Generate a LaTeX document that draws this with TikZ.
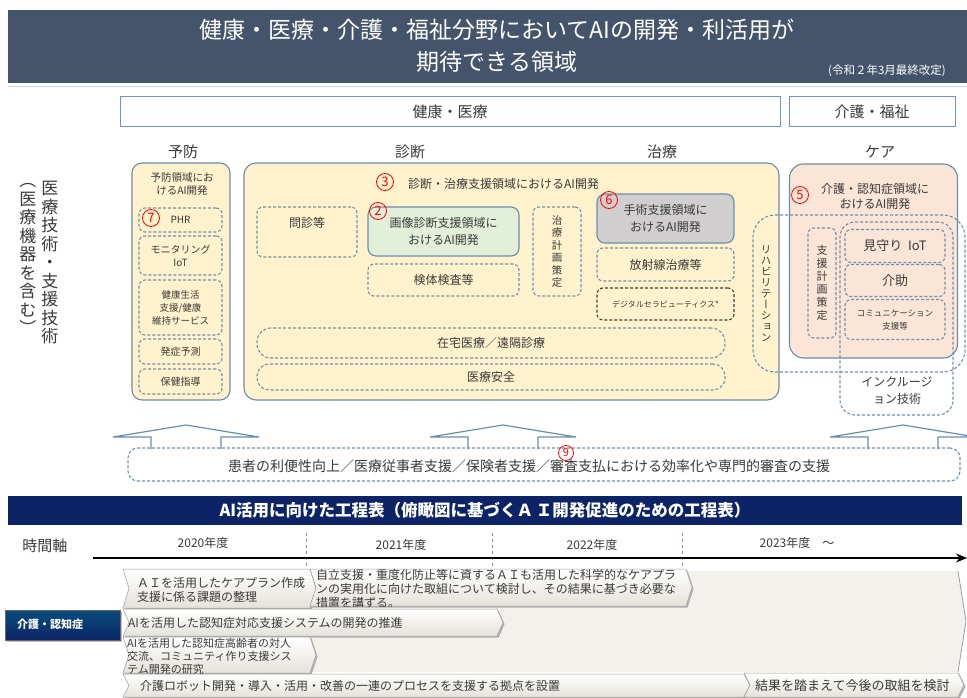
\documentclass[tikz,border=0pt]{standalone}
\usepackage{fontspec}
\setmainfont{Noto Sans CJK JP}
\newfontfamily\jpv[RawFeature=+vert]{Noto Sans CJK JP}
\usetikzlibrary{arrows.meta,shadows}
\definecolor{titlebg}{HTML}{44546A}
\definecolor{navy}{HTML}{0C2466}
\definecolor{hdrblue}{HTML}{6F93D2}
\definecolor{edge}{HTML}{6A8CB0}
\definecolor{dashc}{HTML}{6F90B3}
\definecolor{yel}{HTML}{FFF2CC}
\definecolor{peach}{HTML}{FBE5D6}
\definecolor{grn}{HTML}{E2F0D9}
\definecolor{gry}{HTML}{D0CECE}
\definecolor{txt}{HTML}{3A3A3A}
\definecolor{chevedge}{HTML}{9C9C9C}
\definecolor{chevbot}{HTML}{E4E2DA}
\definecolor{bgfill}{HTML}{F3F1EB}
\definecolor{lightline}{HTML}{BDD7EE}
\newcommand\fs[2]{\fontsize{#1}{#2}\selectfont}
\newcommand\chev[4]{%
 \fill[black!30, shift={(1.6,1.6)}] (#1,#2) -- (#3,#2) -- ({#3+6},{(#2+#4)/2}) -- (#3,#4) -- (#1,#4) -- ({#1+6},{(#2+#4)/2}) -- cycle;
 \shadedraw[top color=white, bottom color=chevbot, draw=chevedge, line width=0.5pt] (#1,#2) -- (#3,#2) -- ({#3+6},{(#2+#4)/2}) -- (#3,#4) -- (#1,#4) -- ({#1+6},{(#2+#4)/2}) -- cycle;}
\newcommand\uparr[1]{\draw[edge, line width=1.2pt, fill=white, line join=miter] ({#1-35},449) -- ({#1-35},437) -- ({#1-73},437) -- (#1,425) -- ({#1+73},437) -- ({#1+35},437) -- ({#1+35},449);}
\tikzset{
 solidbox/.style={draw=edge, line width=1.1pt, rounded corners=8pt, inner sep=0pt, text=txt, align=center},
 dbox/.style={draw=dashc, line width=1.1pt, dash pattern=on 3pt off 2pt, rounded corners=6pt, inner sep=0pt, align=center, text=txt},
 num/.style={circle, draw=red, text=red, line width=0.8pt, inner sep=0pt, minimum size=17pt, font=\fs{13}{13}},
 lbl/.style={text=txt, align=center, inner sep=0pt},
 hdr/.style={draw=hdrblue, line width=1pt, fill=white, inner sep=0pt, text=txt, font=\fs{15}{15}},
 chevtxt/.style={text=txt, align=left, inner sep=0pt, anchor=west},
}
\begin{document}
\begin{tikzpicture}[x=1pt,y=-1pt]
\useasboundingbox (0,0) rectangle (967,698);
\fill[white] (0,0) rectangle (967,698);
% title
\node[fill=titlebg, minimum width=959pt, minimum height=73pt, inner sep=0pt] (banner) at (487.5,46.5) {};
\node[font=\fs{23}{32}, text=white, align=center] (title) at (497,46) {健康・医療・介護・福祉分野においてAIの開発・利活用が\\期待できる領域};
\node[font=\fs{11.5}{11.5}, text=white] (date) at (887,71) {(令和２年3月最終改定)};
\draw[lightline, line width=1pt] (8,86.5) -- (967,86.5);
% headers
\node[hdr, minimum width=660pt, minimum height=30pt] (kenko) at (450,112) {健康・医療};
\node[hdr, minimum width=166pt, minimum height=30pt] (kaigofuku) at (872,112) {介護・福祉};
\node[lbl, font=\fs{15}{15}] (c1) at (183,152) {予防};
\node[lbl, font=\fs{15}{15}] (c2) at (410,152) {診断};
\node[lbl, font=\fs{15}{15}] (c3) at (662,152) {治療};
\node[lbl, font=\fs{15}{15}] (c4) at (880,152) {ケア};
% left vertical
\node[lbl, font=\jpv\fs{17}{18.5}] (v1) at (50,263) {医\\療\\技\\術\\・\\支\\援\\技\\術};
\node[lbl, font=\jpv\fs{17}{18.5}] (v2) at (28,259) {（\\医\\療\\機\\器\\を\\含\\む\\）};
% yobo
\node[solidbox, fill=yel, minimum width=98pt, minimum height=237pt, rounded corners=10pt] (yobo) at (181,281.5) {};
\node[lbl, font=\fs{10.5}{13.5}] (yobot) at (182,184) {予防領域にお\\けるAI開発};
\node[dbox, minimum width=83pt, minimum height=24pt, font=\fs{10}{12}] (phr) at (180.5,220) {PHR};
\node[dbox, minimum width=83pt, minimum height=39pt, font=\fs{10}{13}] (mon) at (180.5,255.5) {モニタリング\\IoT};
\node[dbox, minimum width=83pt, minimum height=55pt, font=\fs{9.5}{13}] (kenkos) at (180.5,307.5) {健康生活\\支援/健康\\維持サービス};
\node[dbox, minimum width=83pt, minimum height=25pt, font=\fs{10}{12}] (hassho) at (180.5,351.5) {発症予測};
\node[dbox, minimum width=83pt, minimum height=25pt, font=\fs{10}{12}] (hoken) at (180.5,381.5) {保健指導};
\node[num] (n7) at (151,218) {7};
% shindan / chiryo
\node[solidbox, fill=yel, minimum width=535pt, minimum height=237pt, rounded corners=12pt] (shindan) at (511.5,281.5) {};
\node[num] (n3) at (385,182) {3};
\node[lbl, anchor=west, font=\fs{12}{12}] (shindant) at (408,184) {診断・治療支援領域におけるAI開発};
\node[dbox, minimum width=100pt, minimum height=50pt] (monshin) at (307,232) {};
\node[lbl, font=\fs{12}{12}] (monshint) at (307,223) {問診等};
\node[solidbox, fill=grn, minimum width=151pt, minimum height=49pt, font=\fs{12}{16.5}] (gazo) at (443.5,231.5) {画像診断支援領域に\\おけるAI開発};
\node[num] (n2) at (378,211) {2};
\node[dbox, minimum width=151pt, minimum height=32pt, font=\fs{12}{12}] (kentai) at (443.5,280) {検体検査等};
\node[dbox, minimum width=48pt, minimum height=89pt, font=\jpv\fs{10.5}{12.5}] (chiryokei) at (557,251.5) {治\\療\\計\\画\\策\\定};
\node[solidbox, fill=gry, minimum width=137pt, minimum height=49pt, font=\fs{12}{16.5}] (shujutsu) at (665.5,218.5) {手術支援領域に\\おけるAI開発};
\node[num] (n6) at (609,200) {6};
\node[dbox, minimum width=137pt, minimum height=33pt, font=\fs{12}{12}] (hosha) at (665.5,264.5) {放射線治療等};
\node[dbox, draw=black!75, minimum width=137pt, minimum height=32pt, font=\fs{8}{8}] (digital) at (665.5,304) {デジタルセラピューティクス*};
\node[dbox, rounded corners=14pt, minimum width=468pt, minimum height=30pt, font=\fs{12}{12}] (zaitaku) at (491,343) {在宅医療／遠隔診療};
\node[dbox, rounded corners=12pt, minimum width=468pt, minimum height=26pt, font=\fs{12}{12}] (anzen) at (491,377) {医療安全};
% care
\node[solidbox, fill=peach, minimum width=168pt, minimum height=194pt, rounded corners=14pt] (care) at (873.5,261) {};
\node[num] (n5) at (800,195) {5};
\node[lbl, font=\fs{12}{15}] (caret) at (875,196) {介護・認知症領域に\\おけるAI開発};
\node[dbox, rounded corners=22pt, minimum width=212pt, minimum height=157pt] (riha) at (859,293.5) {};
\node[lbl, font=\jpv\fs{10.5}{11}] (rihat) at (766,294) {リ\\ハ\\ビ\\リ\\テ\\ー\\シ\\ョ\\ン};
\node[dbox, rounded corners=15pt, minimum width=113pt, minimum height=193pt] (incl) at (896.5,318.5) {};
\node[lbl, font=\fs{12}{17}] (inclt) at (897,391) {インクルージ\\ョン技術};
\node[dbox, minimum width=28pt, minimum height=110pt, font=\jpv\fs{11}{13}] (shienkei) at (822,283) {支\\援\\計\\画\\策\\定};
\node[dbox, minimum width=100pt, minimum height=33pt, font=\fs{13}{13}] (mimamori) at (895,246) {見守り\ \ IoT};
\node[dbox, minimum width=100pt, minimum height=32pt, font=\fs{13}{13}] (kaijo) at (895,280.5) {介助};
\node[dbox, minimum width=100pt, minimum height=40pt, font=\fs{8.5}{13}] (comm) at (895,319.5) {コミュニケーション\\支援等};
% arrows and benefit box
\uparr{186}
\uparr{503}
\uparr{903}
\node[dbox, rounded corners=10pt, minimum width=832pt, minimum height=33pt] (benefit) at (544,464.5) {};
\node[lbl, font=\fs{14}{14}] (benefitt) at (529,466) {患者の利便性向上／医療従事者支援／保険者支援／審査支払における効率化や専門的審査の支援};
\node[num, minimum size=15pt, font=\fs{11}{11}] (n9) at (566,453) {9};
% roadmap
\node[fill=navy, minimum width=954pt, minimum height=29pt, inner sep=0pt, text=white, font=\bfseries\fs{16.5}{16.5}] (roadmap) at (485,510.5) {AI活用に向けた工程表（俯瞰図に基づくＡ\,Ｉ開発促進のための工程表）};
\node[lbl, font=\fs{15}{15}] (jikan) at (45,546) {時間軸};
\node[lbl, font=\fs{12}{12}] (y20) at (203,543) {2020年度};
\node[lbl, font=\fs{12}{12}] (y21) at (401,545) {2021年度};
\node[lbl, font=\fs{12}{12}] (y22) at (592,545) {2022年度};
\node[lbl, font=\fs{12}{12}] (y23) at (797,543) {2023年度　～};
\draw[dashc, dash pattern=on 3pt off 3pt, line width=0.7pt] (306,533) -- (306,570);
\draw[dashc, dash pattern=on 3pt off 3pt, line width=0.7pt] (492,533) -- (492,570);
\draw[dashc, dash pattern=on 3pt off 3pt, line width=0.7pt] (682,533) -- (682,570);
\coordinate (tl0) at (93,558);
\coordinate (tl1) at (967,558);
\draw[line width=1.5pt, -{Stealth[length=11pt,width=9pt]}] (tl0) -- (tl1);
\node[top color=black!10!navy!80!cyan, bottom color=navy, draw=black!60, minimum width=115pt, minimum height=30pt, inner sep=0pt, drop shadow={shadow xshift=1.5pt, shadow yshift=-1.5pt}] (kaigoninchi) at (62.5,625) {};
\node[text=white, font=\bfseries\fs{11}{11}, inner sep=0pt] (kaigoninchit) at (50,624.5) {介護・認知症};
% background of 2023
\fill[bgfill] (300,571) -- (958,571) -- (966,621) -- (958,672) -- (300,672) -- cycle;
\draw[chevedge, line width=0.8pt] (958,571) -- (966,621) -- (958,672);
% chevrons
\chev{123}{569}{310}{608}
\node[chevtxt, font=\fs{12}{14}] (cha) at (137,590) {ＡＩを活用したケアプラン作成\\支援に係る課題の整理};
\chev{310}{569}{686}{606}
\begin{scope}
\clip (310,569) -- (686,569) -- (692,587.5) -- (686,606) -- (310,606) -- cycle;
\node[chevtxt, font=\fs{12}{14}] (chb) at (316,589) {自立支援・重度化防止等に資するＡＩも活用した科学的なケアプラ\\ンの実用化に向けた取組について検討し、その結果に基づき必要な\\措置を講ずる。};
\end{scope}
\chev{123}{609}{497}{636}
\node[chevtxt, font=\fs{12}{14}] (chd) at (128,623) {AIを活用した認知症対応支援システムの開発の推進};
\chev{123}{637}{310}{673}
\node[chevtxt, font=\fs{11}{13}] (che) at (127,656) {AIを活用した認知症高齢者の対人\\交流、コミュニティ作り支援シス\\テム開発の研究};
\chev{123}{674}{744}{697}
\node[chevtxt, font=\fs{12}{14}] (chf) at (140,686) {介護ロボット開発・導入・活用・改善の一連のプロセスを支援する拠点を設置};
\chev{744}{673}{958}{697}
\node[chevtxt, font=\fs{13}{14}] (chg) at (755,686) {結果を踏まえて今後の取組を検討};
\end{tikzpicture}
\end{document}
